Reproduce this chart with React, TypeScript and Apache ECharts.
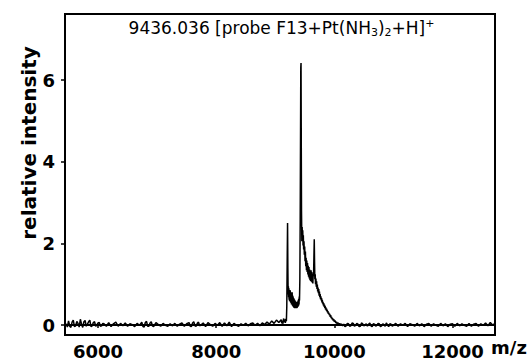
import React, { useEffect, useRef } from 'react';
import * as echarts from 'echarts';

const xTickValues = [6000, 8000, 10000, 12000];
const yTickValues = [0, 2, 4, 6];
const xRange = [5440, 12720];
const yRange = [-0.245, 7.62];

const titleText = '9436.036 [probe F13+Pt(NH{sub|3}){sub|2}+H]{sup|+}';
const yAxisTitle = 'relative intensity';
const xAxisTitle = 'm/z';

const leftBaseline: [number, number][] = [
  [5460, 0.03], [5480, -0.05], [5500, 0.1], [5520, -0.03], [5540, -0.06], [5560, 0.07], [5580, 0.12], [5600, -0.04],
  [5620, -0.02], [5640, 0.09], [5660, 0.04], [5680, -0.05], [5700, 0.14], [5720, 0.02], [5740, -0.06], [5760, 0.08],
  [5780, 0.11], [5800, -0.03], [5820, 0.02], [5840, 0.08], [5860, 0.12], [5880, -0.04], [5900, -0.02], [5920, 0.06],
  [5940, 0.08], [5960, -0.03], [5980, 0.0], [6000, 0.05], [6020, 0.06], [6040, -0.03], [6060, -0.02], [6080, 0.04],
  [6100, 0.03], [6140, -0.03], [6180, 0.06], [6220, -0.04], [6260, 0.03], [6300, 0.07], [6340, -0.03], [6380, 0.04],
  [6420, -0.02], [6460, 0.05], [6500, -0.03], [6540, 0.03], [6580, 0.01], [6620, -0.04], [6660, 0.04], [6700, -0.01],
  [6740, 0.07], [6760, -0.04], [6780, -0.05], [6800, 0.06], [6820, 0.09], [6840, -0.03], [6860, -0.03], [6880, 0.05],
  [6900, 0.08], [6920, -0.02], [6940, -0.04], [6980, 0.06], [7020, 0.01], [7060, -0.03], [7100, 0.04], [7140, -0.01],
  [7180, -0.03], [7220, 0.03], [7260, -0.02], [7300, 0.04], [7340, -0.03], [7380, 0.02], [7420, 0.05], [7460, -0.03],
  [7500, 0.03], [7540, 0.06], [7560, -0.03], [7580, -0.04], [7600, 0.05], [7620, 0.08], [7640, -0.02], [7660, -0.03],
  [7680, 0.04], [7700, 0.07], [7720, -0.02], [7740, 0.0], [7780, 0.05], [7820, -0.04], [7860, 0.06], [7900, 0.01],
  [7940, -0.03], [7980, 0.04], [8020, -0.01], [8060, 0.06], [8100, -0.03], [8140, 0.05], [8180, -0.02], [8220, 0.07],
  [8260, -0.04], [8300, 0.04], [8340, 0.0], [8380, -0.03], [8420, 0.03], [8460, -0.01], [8500, 0.04], [8540, -0.02],
  [8580, 0.03], [8620, 0.05], [8660, -0.01], [8700, 0.04], [8740, -0.02], [8780, 0.05], [8820, 0.01], [8860, 0.07],
  [8900, 0.02], [8940, 0.1], [8980, 0.04], [9020, 0.12], [9060, 0.06], [9100, 0.13],
];

const peakRegion: [number, number][] = [
  [9110, 0.04], [9120, 0.11], [9130, 0.03], [9140, 0.16], [9150, 0.07], [9160, 0.14], [9170, 0.05], [9180, 0.15],
  [9188, 0.09], [9195, 0.45], [9202, 1.6], [9208, 2.5], [9213, 1.4], [9218, 0.75], [9222, 0.95], [9226, 0.68],
  [9230, 0.9], [9234, 0.62], [9238, 0.86], [9242, 0.58], [9246, 0.82], [9250, 0.6], [9254, 0.85], [9258, 0.56],
  [9262, 0.8], [9266, 0.54], [9270, 0.78], [9274, 0.5], [9278, 0.76], [9282, 0.52], [9286, 0.8], [9290, 0.48],
  [9294, 0.72], [9298, 0.46], [9302, 0.7], [9306, 0.45], [9310, 0.66], [9314, 0.43], [9318, 0.64], [9322, 0.42],
  [9326, 0.62], [9330, 0.41], [9334, 0.6], [9338, 0.42], [9342, 0.58], [9346, 0.41], [9350, 0.57], [9354, 0.42],
  [9358, 0.55], [9362, 0.41], [9366, 0.54], [9370, 0.42], [9374, 0.56], [9378, 0.44], [9382, 0.58], [9386, 0.45],
  [9390, 0.62], [9394, 0.47], [9398, 0.64], [9402, 0.5], [9406, 0.7], [9410, 0.6], [9416, 1.1], [9422, 2.6],
  [9428, 4.8], [9432, 6.3], [9436, 6.42], [9440, 4.5], [9444, 2.8], [9450, 2.05], [9455, 2.4], [9460, 2.1],
  [9465, 2.32], [9470, 1.95], [9475, 2.2], [9480, 1.85], [9486, 2.05], [9492, 1.72], [9498, 1.92], [9504, 1.56],
  [9510, 1.8], [9516, 1.44], [9522, 1.65], [9528, 1.34], [9534, 1.58], [9540, 1.3], [9546, 1.52], [9552, 1.24],
  [9558, 1.45], [9564, 1.18], [9570, 1.42], [9576, 1.14], [9582, 1.36], [9588, 1.1], [9594, 1.32], [9600, 1.08],
  [9606, 1.34], [9612, 1.06], [9618, 1.3], [9624, 1.04], [9630, 1.24], [9636, 1.02], [9642, 1.26], [9648, 1.2],
  [9654, 1.65], [9660, 2.1], [9665, 1.55], [9670, 1.12], [9676, 1.24], [9682, 1.0], [9688, 1.14], [9694, 0.94],
  [9700, 1.07], [9706, 0.88], [9712, 0.99], [9718, 0.82], [9724, 0.92], [9730, 0.78], [9736, 0.88], [9742, 0.72],
  [9748, 0.82], [9754, 0.68], [9760, 0.76], [9766, 0.63], [9772, 0.7], [9778, 0.6], [9784, 0.66], [9790, 0.55],
  [9796, 0.62], [9802, 0.52], [9808, 0.57], [9814, 0.48], [9820, 0.54], [9826, 0.45], [9832, 0.5], [9838, 0.42],
  [9844, 0.47], [9850, 0.38], [9856, 0.43], [9862, 0.36], [9868, 0.4], [9874, 0.33], [9880, 0.37], [9886, 0.3],
  [9892, 0.34], [9898, 0.27], [9906, 0.3], [9914, 0.24], [9922, 0.27], [9930, 0.2], [9938, 0.24], [9946, 0.17],
  [9954, 0.2], [9962, 0.14], [9970, 0.17], [9980, 0.11], [9990, 0.14], [10000, 0.08], [10012, 0.11], [10024, 0.05],
  [10036, 0.08], [10048, 0.02], [10060, 0.06], [10075, 0.0], [10090, 0.04], [10105, -0.02], [10120, 0.03], [10140, -0.02],
];

const rightBaseline: [number, number][] = [
  [10160, 0.02], [10180, -0.04], [10200, -0.02], [10220, 0.04], [10240, 0.03], [10260, -0.03], [10280, -0.02], [10300, 0.05],
  [10320, 0.04], [10340, -0.03], [10360, -0.01], [10380, 0.04], [10400, 0.02], [10420, -0.04], [10440, -0.03], [10460, 0.05],
  [10480, 0.03], [10500, -0.02], [10520, 0.0], [10540, 0.03], [10560, -0.03], [10580, 0.02], [10600, 0.05], [10620, -0.02],
  [10640, -0.04], [10660, 0.03], [10680, 0.02], [10700, -0.03], [10720, -0.01], [10740, 0.04], [10760, 0.03], [10780, -0.04],
  [10800, -0.02], [10820, 0.03], [10840, 0.01], [10860, -0.03], [10880, 0.05], [10900, 0.0], [10920, -0.04], [10940, 0.03],
  [10960, 0.02], [10980, -0.03], [11000, -0.01], [11040, 0.04], [11080, -0.03], [11120, 0.03], [11160, -0.01], [11200, 0.04],
  [11240, -0.04], [11280, 0.03], [11320, 0.01], [11360, -0.03], [11400, 0.04], [11440, -0.02], [11480, 0.03], [11520, -0.04],
  [11560, 0.02], [11600, 0.04], [11640, -0.03], [11680, 0.03], [11720, -0.01], [11760, -0.03], [11800, 0.04], [11840, -0.02],
  [11880, 0.03], [11920, -0.04], [11960, 0.02], [12000, 0.03], [12040, -0.03], [12080, 0.04], [12120, -0.02], [12160, 0.03],
  [12200, -0.01], [12240, -0.03], [12280, 0.04], [12320, -0.03], [12360, 0.02], [12400, 0.04], [12440, -0.03], [12480, 0.03],
  [12520, -0.01], [12560, 0.05], [12600, -0.02], [12640, 0.06], [12680, 0.0], [12710, 0.03],
];

const FONT = '"DejaVu Sans", "Liberation Sans", Arial, sans-serif';

export default function App() {
  const ref = useRef<HTMLDivElement>(null);
  useEffect(() => {
    if (!ref.current) return;
    const chart = echarts.init(ref.current, null, { renderer: 'svg' });
    const spectrum = [...leftBaseline, ...peakRegion, ...rightBaseline];
    chart.setOption({
      animation: false,
      backgroundColor: '#fff',
      grid: {
        left: 65,
        right: 34,
        top: 14,
        bottom: 25,
        show: true,
        borderColor: '#000',
        borderWidth: 2,
        backgroundColor: 'transparent',
      },
      xAxis: {
        type: 'value',
        min: xRange[0],
        max: xRange[1],
        axisLine: { show: true, lineStyle: { color: '#000', width: 2 } },
        axisTick: { show: true, customValues: xTickValues, length: 3, lineStyle: { color: '#000', width: 1.5 } },
        axisLabel: {
          customValues: xTickValues,
          formatter: (v: number) => String(v),
          margin: 7,
          color: '#000',
          fontFamily: FONT,
          fontWeight: 'bold',
          fontSize: 18,
        },
        splitLine: { show: false },
      },
      yAxis: {
        type: 'value',
        min: yRange[0],
        max: yRange[1],
        axisLine: { show: true, lineStyle: { color: '#000', width: 2 } },
        axisTick: { show: true, customValues: yTickValues, length: 4, lineStyle: { color: '#000', width: 1.5 } },
        axisLabel: {
          customValues: yTickValues,
          formatter: (v: number) => String(v),
          margin: 10,
          color: '#000',
          fontFamily: FONT,
          fontWeight: 'bold',
          fontSize: 18,
        },
        splitLine: { show: false },
      },
      graphic: [
        {
          type: 'text',
          x: 281.5,
          y: 27.5,
          style: {
            text: titleText,
            fontFamily: FONT,
            fontSize: 17,
            fill: '#000',
            textAlign: 'center',
            textVerticalAlign: 'middle',
            rich: {
              sub: { fontFamily: FONT, fontSize: 11, fill: '#000', padding: [9, 0, 0, 0] },
              sup: { fontFamily: FONT, fontSize: 11, fill: '#000', padding: [0, 0, 9, 0] },
            },
          },
        },
        {
          type: 'text',
          x: 28.5,
          y: 143,
          rotation: Math.PI / 2,
          style: {
            text: yAxisTitle,
            fontFamily: FONT,
            fontSize: 20,
            fontWeight: 'bold',
            fill: '#000',
            textAlign: 'center',
            textVerticalAlign: 'middle',
          },
        },
        {
          type: 'text',
          x: 509,
          y: 347,
          style: {
            text: xAxisTitle,
            fontFamily: FONT,
            fontSize: 18,
            fontWeight: 'bold',
            fill: '#000',
            textAlign: 'center',
            textVerticalAlign: 'middle',
          },
        },
      ],
      series: [
        {
          type: 'line',
          data: spectrum,
          showSymbol: false,
          symbol: 'none',
          lineStyle: { color: '#000', width: 1.5 },
          silent: true,
        },
      ],
    });
    return () => chart.dispose();
  }, []);
  return (
    <div
      ref={ref}
      style={{ position: 'fixed', left: 0, top: 0, width: 529, height: 360, background: '#fff' }}
    />
  );
}
